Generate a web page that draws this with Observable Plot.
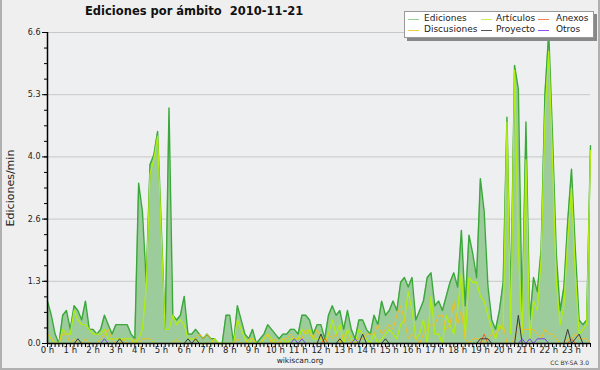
<!DOCTYPE html>
<html><head><meta charset="utf-8">
<script src="https://cdn.jsdelivr.net/npm/d3@7"></script>
<script src="https://cdn.jsdelivr.net/npm/@observablehq/plot@0.6"></script>
<style>
html,body{margin:0;padding:0;background:#efefef}
#wrap{position:relative;width:600px;height:370px;background:#efefef;overflow:hidden;font-family:"DejaVu Sans",sans-serif;color:#222}
#wrap svg{position:absolute;left:0;top:0}
#border{position:absolute;left:0;top:-3px;width:596px;height:369px;border:2px solid #b0b0b0;pointer-events:none}
.abs{position:absolute;white-space:pre;line-height:1}
#title{left:85px;top:6px;font-weight:bold;font-size:11.5px;color:#111}
#legend{position:absolute;left:404px;top:11px;width:188px;height:25px;background:#fff;border:1px solid #999;box-shadow:3px 3px 0 #888}
.sw{position:absolute;height:1.5px;width:11px}
.lt{position:absolute;font-size:9px;line-height:1;white-space:pre;color:#222}
#ylab{left:9.5px;top:187.5px;font-size:11px;transform:translate(-50%,-50%) rotate(-90deg)}
#foot{left:300px;top:357px;font-size:7.5px;transform:translateX(-50%)}
#cc{right:11px;top:360px;font-size:6px;color:#333}
</style>
</head><body>
<div id="wrap">
  <div id="chart"></div>
  <div id="title" class="abs">Ediciones por ámbito  2010-11-21</div>
  <div id="legend"></div>
  <div id="ylab" class="abs">Ediciones/min</div>
  <div id="foot" class="abs">wikiscan.org</div>
  <div id="cc" class="abs">CC BY-SA 3.0</div>
  <div id="border"></div>
</div>
<script>
// 10-minute samples, one row per hour
const ediciones = [
0.9,0.6,0.2,0.0,0.6,0.7,
0.3,0.8,0.7,0.5,0.9,0.3,
0.3,0.2,0.3,0.6,0.4,0.2,
0.4,0.4,0.4,0.4,0.2,0.1,
3.4,2.8,1.3,3.8,4.0,4.5,
2.4,0.3,5.0,0.6,0.5,0.6,
1.0,0.2,0.2,0.3,0.2,0.1,
0.2,0.1,0.1,0.0,0.0,0.6,
0.6,0.0,0.8,0.5,0.2,0.1,
0.3,0.0,0.1,0.2,0.4,0.3,
0.2,0.1,0.2,0.2,0.3,0.3,
0.2,0.6,0.6,0.5,0.2,0.4,
0.4,0.1,0.6,0.8,0.6,0.7,
0.3,0.7,0.3,0.1,0.5,0.5,
0.3,0.2,0.6,0.4,0.9,0.6,
0.7,0.9,0.7,1.3,1.4,1.2,
1.4,0.5,0.7,0.9,1.4,1.5,
0.8,0.9,0.7,1.0,1.3,1.5,
1.2,2.4,0.8,2.3,1.9,1.4,
3.5,2.8,1.2,0.5,0.3,0.7,
1.3,4.8,0.9,5.9,5.4,0.6,
4.7,0.5,1.4,1.1,2.0,5.3,
6.6,4.4,1.9,0.7,1.2,2.6,
3.7,2.0,0.5,0.4,0.5,4.2];
const articulos = [
0.2,0.1,0.0,0.0,0.3,0.2,
0.2,0.7,0.5,0.4,0.4,0.3,
0.2,0.2,0.2,0.3,0.1,0.1,
0.1,0.1,0.1,0.1,0.1,0.0,
0.1,0.3,1.2,3.6,3.9,4.4,
2.2,0.3,0.3,0.6,0.4,0.5,
0.4,0.1,0.1,0.1,0.0,0.0,
0.0,0.0,0.1,0.0,0.0,0.0,
0.0,0.0,0.5,0.3,0.1,0.0,
0.1,0.0,0.0,0.1,0.2,0.1,
0.0,0.0,0.1,0.0,0.1,0.1,
0.1,0.3,0.2,0.3,0.1,0.1,
0.1,0.0,0.2,0.5,0.2,0.4,
0.0,0.3,0.1,0.0,0.3,0.2,
0.1,0.0,0.2,0.0,0.1,0.2,
0.3,0.2,0.1,0.4,0.5,1.1,
0.7,0.1,0.2,0.5,0.0,1.0,
0.2,0.2,0.0,0.6,0.4,0.2,
0.7,1.5,0.1,1.4,1.3,1.3,
1.0,0.9,0.6,0.3,0.1,0.4,
0.3,4.7,0.2,5.8,2.0,0.2,
3.9,0.1,0.9,0.7,1.8,4.8,
6.2,3.9,1.3,0.4,0.8,2.2,
3.3,1.5,0.2,0.3,0.4,4.1];
const discusiones = [
0.2,0.1,0.0,0.0,0.2,0.2,
0.0,0.1,0.0,0.0,0.1,0.0,
0.0,0.0,0.1,0.2,0.3,0.1,
0.0,0.0,0.1,0.0,0.0,0.1,
0.0,0.1,0.1,0.1,0.0,0.0,
0.0,0.0,0.0,0.0,0.1,0.0,
0.0,0.0,0.0,0.1,0.2,0.1,
0.2,0.1,0.0,0.0,0.0,0.0,
0.0,0.0,0.1,0.0,0.0,0.1,
0.1,0.0,0.0,0.1,0.2,0.0,
0.1,0.0,0.1,0.1,0.2,0.1,
0.1,0.1,0.3,0.2,0.1,0.3,
0.1,0.0,0.2,0.1,0.2,0.0,
0.2,0.1,0.0,0.0,0.1,0.1,
0.2,0.2,0.2,0.4,0.2,0.3,
0.4,0.3,0.6,0.8,0.5,0.1,
0.2,0.1,0.0,0.2,0.3,0.4,
0.4,0.6,0.6,0.3,0.4,0.9,
0.4,0.7,0.1,0.0,0.1,0.1,
0.1,0.0,0.1,0.2,0.2,0.3,
0.4,0.0,0.0,0.1,0.4,0.3,
0.3,0.3,0.3,0.2,0.1,0.3,
0.2,0.2,0.1,0.0,0.0,0.1,
0.1,0.2,0.1,0.1,0.1,0.0];
const proyecto = [
0,0,0,0,0,0, 0,0,0.1,0,0,0, 0,0,0,0,0,0, 0,0.1,0,0,0,0,
0,0,0,0,0,0, 0,0,0,0,0,0, 0,0.1,0,0.1,0,0, 0,0,0,0,0,0,
0,0,0,0,0,0, 0,0,0,0,0,0, 0,0,0,0,0,0, 0,0,0,0,0,0,
0.2,0,0,0,0,0.1, 0,0,0,0,0,0.2, 0,0,0,0,0,0.1, 0,0,0,0,0,0,
0,0,0,0,0,0, 0,0,0,0,0,0, 0,0,0,0,0,0, 0.1,0.1,0.1,0,0,0,
0,0,0,0,0.6,0, 0,0,0,0,0,0, 0,0,0,0,0,0.3, 0,0.1,0.2,0,0,0];
const anexos = [
0,0,0,0,0,0, 0,0,0,0,0,0, 0,0,0,0,0,0, 0,0,0,0,0,0,
0,0,0,0,0,0, 0,0,0,0,0,0, 0,0,0,0,0,0, 0,0,0,0,0,0,
0,0,0,0,0,0, 0,0,0,0,0,0, 0,0,0,0,0,0, 0,0,0,0,0,0,
0,0.1,0,0,0,0, 0,0,0,0,0,0, 0,0,0,0,0,0, 0,0,0,0,0,0,
0,0,0,0,0,0, 0,0,0,0,0,0, 0,0,0,0,0,0, 0,0.2,0,0,0,0,
0,0,0,0,0,0, 0,0,0,0,0,0, 0,0,0,0,0,0, 0.1,0,0,0,0,0];
const otros = [
0,0,0,0,0,0, 0,0,0,0,0,0, 0,0,0,0.1,0,0, 0,0,0,0,0,0,
0,0,0,0,0,0, 0,0,0,0,0,0, 0,0,0,0,0,0, 0,0,0,0,0,0,
0,0,0,0,0,0, 0,0,0,0,0,0, 0,0,0,0,0,0.1, 0,0.1,0,0,0,0,
0,0,0,0,0,0, 0,0,0,0.1,0,0, 0,0,0,0,0,0, 0,0,0,0,0,0,
0,0,0,0,0,0, 0,0,0,0,0,0, 0,0,0,0,0,0, 0,0,0,0,0,0,
0,0,0,0,0,0.1, 0,0.1,0,0.1,0.1,0.1, 0,0,0,0,0,0, 0,0,0,0,0,0];

const hourLabels = ["0 h","1 h","2 h","3 h","4 h","5 h","6 h","7 h","8 h","9 h","10 h","11 h",
  "12 h","13 h","14 h","15 h","16 h","17 h","18 h","19 h","20 h","21 h","22 h","23 h"];
const yTickValues = [0, 1.32, 2.64, 3.96, 5.28, 6.6];
const yTickLabels = ["0.0","1.3","2.6","4.0","5.3","6.6"];

const series = [
  {name:"Ediciones", values: ediciones, color:"#3aa83a", legend:"#8fd08f"},
  {name:"Artículos", values: articulos, color:"#b0ee10", legend:"#c8ee50"},
  {name:"Anexos", values: anexos, color:"#f06020", legend:"#f08050"},
  {name:"Discusiones", values: discusiones, color:"#f0c020", legend:"#f0d040"},
  {name:"Proyecto", values: proyecto, color:"#3a3a3a", legend:"#555"},
  {name:"Otros", values: otros, color:"#8040e8", legend:"#9050f0"}
];

const minutes = ediciones.map((_, i) => i * 10);
const rows = minutes.map((m, i) => ({m, ed: ediciones[i], art: articulos[i], dis: discusiones[i],
  pro: proyecto[i], ane: anexos[i], otr: otros[i]}));

const hourTicks = hourLabels.map((_, h) => h * 60);
const hourMap = new Map(hourTicks.map((t, i) => [t, hourLabels[i]]));
const yMap = new Map(yTickValues.map((t, i) => [t, yTickLabels[i]]));
const yMinor = [];
for (let k = 0; k <= 20; k++) yMinor.push(+(k * 0.33).toFixed(2));

const chart = Plot.plot({
  width: 600, height: 370,
  marginLeft: 47, marginRight: 10, marginTop: 32, marginBottom: 27,
  x: {domain: [0, 1430]},
  y: {domain: [0, 6.6]},
  style: {background: "transparent", fontFamily: "DejaVu Sans", fontSize: "8px", color: "#222"},
  marks: [
    Plot.frame({fill: "#eeeff1", stroke: "none"}),
    Plot.gridY(yTickValues, {stroke: "#c8c8c8", strokeOpacity: 1, strokeWidth: 1}),
    Plot.areaY(rows, {x: "m", y: "ed", fill: "#9ccb9c", fillOpacity: 1}),
    Plot.lineY(rows, {x: "m", y: "ed", stroke: "#3aa83a", strokeWidth: 1.4}),
    Plot.lineY(rows, {x: "m", y: "art", stroke: "#b0ee10", strokeWidth: 1.3}),
    Plot.lineY(rows, {x: "m", y: "dis", stroke: "#f0c020", strokeWidth: 1}),
    Plot.lineY(rows, {x: "m", y: "ane", stroke: "#f06020", strokeWidth: 1}),
    Plot.lineY(rows, {x: "m", y: "pro", stroke: "#3a3a3a", strokeWidth: 1}),
    Plot.lineY(rows, {x: "m", y: "otr", stroke: "#8040e8", strokeWidth: 1}),
    Plot.ruleY([0], {stroke: "#000", strokeWidth: 1.5}),
    Plot.ruleX([0], {stroke: "#000", strokeWidth: 1.5}),
    Plot.axisY(yMinor, {tickSize: 3, tickFormat: () => "", label: null, stroke: "#000"}),
    Plot.axisY(yTickValues, {tickSize: 5, tickPadding: 2, tickFormat: d => yMap.get(d), label: null, fontSize: 8, stroke: "#000"}),
    Plot.axisX(minutes, {tickSize: 4, tickFormat: () => "", label: null, stroke: "#000"}),
    Plot.axisX(hourTicks, {tickSize: 0, tickPadding: 3, tickFormat: d => hourMap.get(d), label: null, fontSize: 8.5})
  ]
});
document.getElementById("chart").appendChild(chart);

// legend
const lg = document.getElementById("legend");
const cols = [[3, 19], [76, 91], [133, 151]];
series.forEach((s, i) => {
  const c = cols[i % 3], r = Math.floor(i / 3);
  const sw = document.createElement("div");
  sw.className = "sw";
  sw.style.left = c[0] + "px";
  sw.style.top = (6.5 + r * 11) + "px";
  sw.style.background = s.legend;
  lg.appendChild(sw);
  const t = document.createElement("div");
  t.className = "lt";
  t.textContent = s.name;
  t.style.left = c[1] + "px";
  t.style.top = (2 + r * 11) + "px";
  lg.appendChild(t);
});
</script>
</body></html>
